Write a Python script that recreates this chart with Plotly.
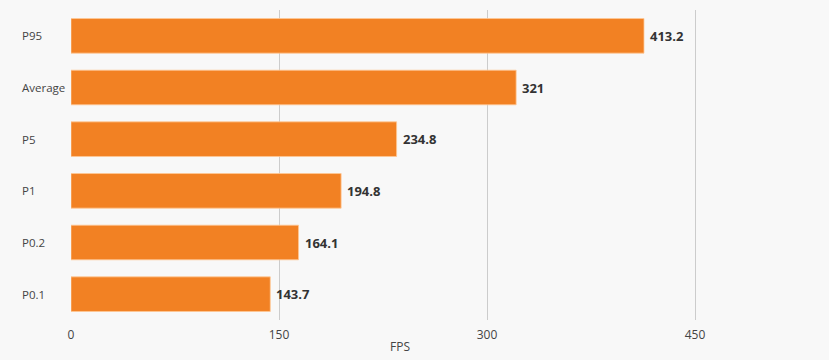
import plotly.graph_objects as go

categories = ["P95", "Average", "P5", "P1", "P0.2", "P0.1"]
values = [413.2, 321, 234.8, 194.8, 164.1, 143.7]
tick_vals = [0, 150, 300, 450]

fig = go.Figure()
fig.add_trace(go.Bar(
    y=categories, x=values, orientation="h",
    marker=dict(color="#F28123", line=dict(color="rgba(255,200,150,0.8)", width=1)),
    hoverinfo="skip",
))

for c, v in zip(categories, values):
    fig.add_annotation(
        x=-0.0775, xref="paper", y=c, yref="y", text=c, showarrow=False,
        xanchor="left", font=dict(family="Open Sans", size=11.5, color="#444444"),
    )
    fig.add_annotation(
        x=v, xref="x", y=c, yref="y", text=f"<b>{v:g}</b>", showarrow=False,
        xanchor="left", xshift=4,
        font=dict(family="Open Sans", size=13, color="#333333"),
    )

fig.update_layout(
    width=829, height=360,
    margin=dict(l=71, r=100, t=10, b=40),
    paper_bgcolor="#f8f8f8", plot_bgcolor="#f8f8f8",
    font=dict(family="Open Sans", size=12, color="#444444"),
    bargap=0.33,
    showlegend=False,
    xaxis=dict(
        range=[0, 474.5], tickvals=tick_vals, showgrid=True,
        gridcolor="#cccccc", gridwidth=1, zeroline=False,
        title=dict(text="FPS", font=dict(size=12, color="#444444"), standoff=0),
        tickfont=dict(size=12, color="#444444"), ticks="", showline=False,
        ticklabelstandoff=6,
    ),
    yaxis=dict(
        categoryorder="array", categoryarray=categories[::-1],
        showticklabels=False, showgrid=False, zeroline=False, ticks="",
    ),
)

fig.write_html("out.html", config={"displayModeBar": False},
               post_script="document.body.style.margin='0';")
